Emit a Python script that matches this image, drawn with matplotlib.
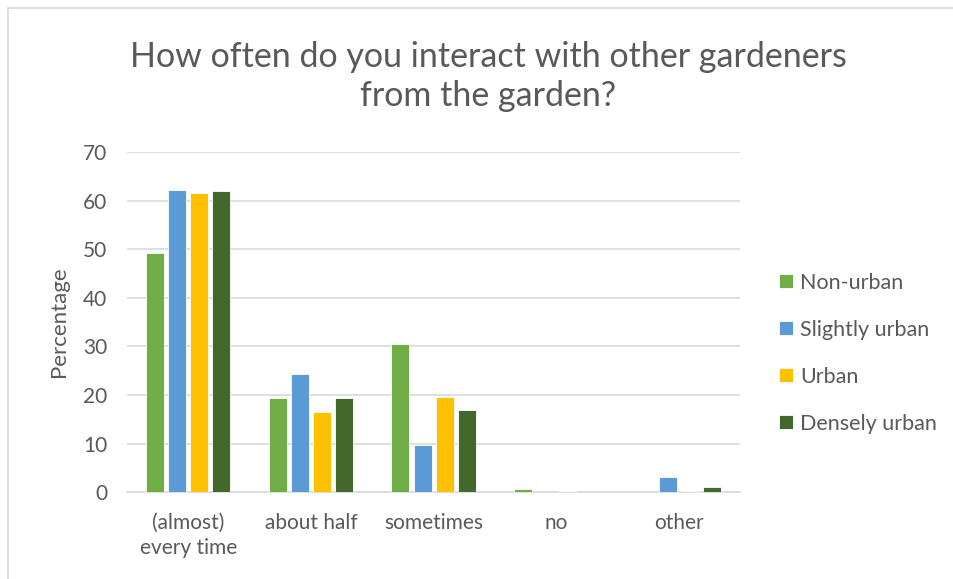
import numpy as np
import matplotlib
matplotlib.use("Agg")
import matplotlib.pyplot as plt
from matplotlib.patches import Rectangle

plt.rcParams['font.family'] = ['Lato', 'DejaVu Sans']

categories = ["(almost)\nevery time", "about half", "sometimes", "no", "other"]
series_names = ["Non-urban", "Slightly urban", "Urban", "Densely urban"]
non_urban = [49.2, 19.3, 30.4, 0.6, 0.0]
slightly_urban = [62.2, 24.4, 9.7, 0.0, 3.1]
urban = [61.6, 16.5, 19.6, 0.3, 0.3]
densely_urban = [62.0, 19.4, 16.9, 0.0, 1.1]
colors = ["#70AD47", "#5B9BD5", "#FFC000", "#43682B"]

fig = plt.figure(figsize=(9.54, 5.79), dpi=100)
ax = fig.add_axes([0.133, 0.150, 0.643, 0.5875])

X = np.arange(len(categories))
width = 0.147
step = 0.18
all_series = [non_urban, slightly_urban, urban, densely_urban]
for i, (vals, name, c) in enumerate(zip(all_series, series_names, colors)):
    ax.bar(X + (i - 1.5) * step, vals, width, color=c, label=name,
           edgecolor="white", linewidth=0.6, zorder=3)

ax.set_xlim(-0.5, len(categories) - 0.5)
ax.set_ylim(0, 70)
ax.set_yticks(range(0, 71, 10))
ax.set_xticks(X)
ax.set_xticklabels(categories, fontsize=15, color="#595959", linespacing=1.3)
ax.tick_params(axis="y", labelsize=15, labelcolor="#595959", length=0, pad=14)
ax.tick_params(axis="x", length=0, pad=15)
ax.yaxis.grid(True, color="#d9d9d9", linewidth=1.2, zorder=0)
for s in ["top", "right", "left"]:
    ax.spines[s].set_visible(False)
ax.spines["bottom"].set_color("#d9d9d9")
ax.spines["bottom"].set_linewidth(1.2)
ax.set_ylabel("Percentage", fontsize=16, color="#595959", labelpad=10)

fig.suptitle("How often do you interact with other gardeners\nfrom the garden?",
             fontsize=24.5, color="#595959", x=0.512, y=0.93, linespacing=1.3)

handles, labels = ax.get_legend_handles_labels()
leg = fig.legend(handles, labels, loc="center left", bbox_to_anchor=(0.796, 0.39),
                 frameon=False, fontsize=15.5, handlelength=0.65, handleheight=0.65,
                 labelspacing=1.25, handletextpad=0.35, labelcolor="#595959")

fig.patches.append(Rectangle((0.008, -0.1), 1.2, 1.086, transform=fig.transFigure,
                             fill=False, edgecolor="#d9d9d9", linewidth=1.2))

plt.savefig("out.png", dpi=100)
